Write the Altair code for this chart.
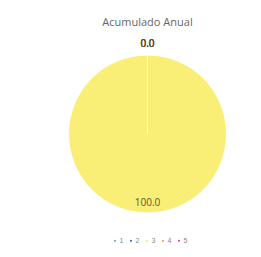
import altair as alt
import pandas as pd

categories = ["1", "2", "3", "4", "5"]
values = [0.0, 0.0, 100.0, 0.0, 0.0]
colors = ["#6fa8dc", "#3d6fb6", "#f9ef77", "#f6a04d", "#e8507a"]

df = pd.DataFrame({"cat": categories, "value": values, "order": list(range(5))})
df["label"] = df["value"].map(lambda v: f"{v:.1f}")

base = alt.Chart(df).encode(
    theta=alt.Theta("value:Q", stack=True),
    order=alt.Order("order:Q"),
)

arc = base.mark_arc(outerRadius=79, stroke="white", strokeWidth=1).encode(
    color=alt.Color(
        "cat:N",
        scale=alt.Scale(domain=categories, range=colors),
        legend=alt.Legend(
            orient="none", legendX=64, legendY=193, direction="horizontal",
            title=None, symbolType="circle", symbolSize=14,
            labelFontSize=7, labelColor="#888888", columnPadding=2, labelOffset=1,
        ),
    )
)

text = base.mark_text(fontSize=10, color="#5a5530", font="Open Sans").transform_calculate(
    r="datum.value > 0 ? 69 : 90"
).encode(
    text="label:N",
    radius=alt.Radius("r:Q", scale=None),
)

chart = (arc + text).properties(
    width=200, height=180,
    autosize=alt.AutoSizeParams(type="none"),
    padding={"left": 39.5, "top": 36, "right": 5, "bottom": 25},
    title=alt.Title("Acumulado Anual", fontSize=11, color="#666666", font="Open Sans", fontWeight="normal", offset=11),
).configure_view(stroke=None)

chart.save("out.html", embed_options={"renderer": "svg", "actions": False})
